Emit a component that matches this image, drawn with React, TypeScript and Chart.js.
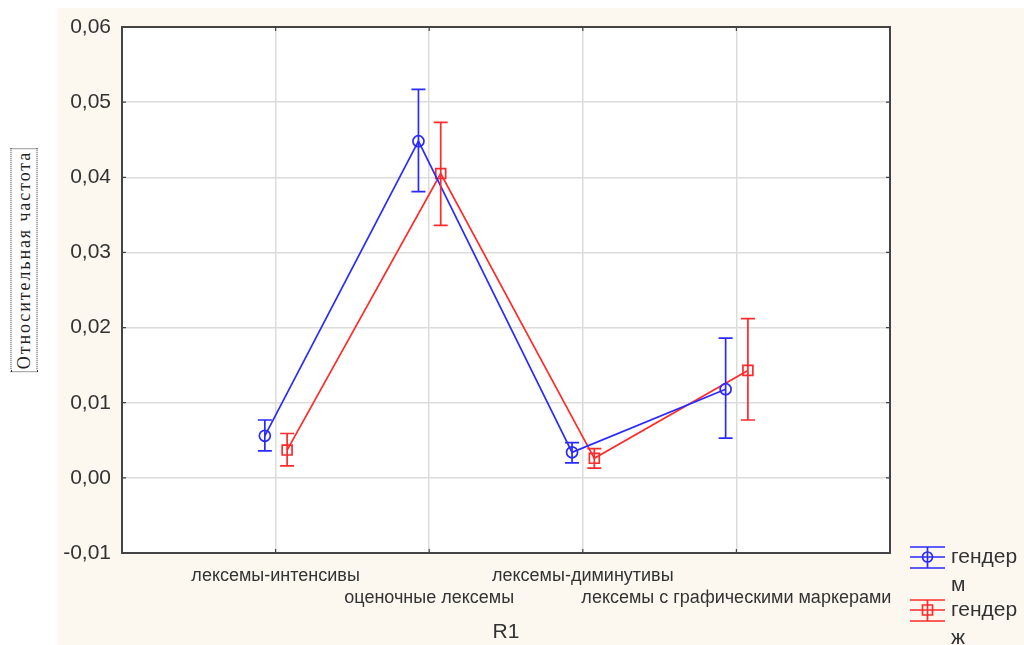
import React, { useEffect, useRef } from 'react';
import { Chart, registerables } from 'chart.js';

Chart.register(...registerables);

// категории по оси R1
const categories = [
    'лексемы-интенсивы',
    'оценочные лексемы',
    'лексемы-диминутивы',
    'лексемы с графическими маркерами',
];

// гендер м
const maleMean = [0.0056, 0.0448, 0.0034, 0.0118];
const maleLow = [0.0036, 0.0381, 0.0020, 0.0053];
const maleHigh = [0.0077, 0.0517, 0.0047, 0.0186];

// гендер ж
const femaleMean = [0.0037, 0.0405, 0.0026, 0.0143];
const femaleLow = [0.0016, 0.0336, 0.0013, 0.0077];
const femaleHigh = [0.0059, 0.0473, 0.0039, 0.0212];

const seriesNames = ['гендер\nм', 'гендер\nж'];
const yTicks = [-0.01, 0.0, 0.01, 0.02, 0.03, 0.04, 0.05, 0.06];

const BLUE = '#2a2aff';
const RED = '#ff2a2a';
const BG = '#fdf8ef';

const errors = [
    { low: maleLow, high: maleHigh },
    { low: femaleLow, high: femaleHigh },
];

const fmt = (v: number) => v.toFixed(2).replace('.', ',');

const backgroundPlugin = {
    id: 'bg',
    beforeDraw(chart: any) {
        const { ctx, chartArea } = chart;
        ctx.save();
        ctx.fillStyle = BG;
        ctx.fillRect(0, 0, chart.width, chart.height);
        ctx.fillStyle = '#ffffff';
        ctx.fillRect(chartArea.left, chartArea.top, chartArea.right - chartArea.left, chartArea.bottom - chartArea.top);
        ctx.restore();
    },
};

const errorBarPlugin = {
    id: 'errbars',
    afterDatasetsDraw(chart: any) {
        const { ctx } = chart;
        const y = chart.scales.y;
        chart.data.datasets.forEach((ds: any, i: number) => {
            const meta = chart.getDatasetMeta(i);
            ctx.save();
            ctx.strokeStyle = ds.borderColor;
            ctx.lineWidth = 1.7;
            meta.data.forEach((pt: any, j: number) => {
                const yl = y.getPixelForValue(errors[i].low[j]);
                const yh = y.getPixelForValue(errors[i].high[j]);
                const w = 7;
                ctx.beginPath();
                ctx.moveTo(pt.x, yl);
                ctx.lineTo(pt.x, yh);
                ctx.moveTo(pt.x - w, yl);
                ctx.lineTo(pt.x + w, yl);
                ctx.moveTo(pt.x - w, yh);
                ctx.lineTo(pt.x + w, yh);
                ctx.stroke();
            });
            ctx.restore();
        });
    },
};

const framePlugin = {
    id: 'frame',
    afterDraw(chart: any) {
        const { ctx, chartArea } = chart;
        const { left, top, right, bottom } = chartArea;
        ctx.save();
        ctx.strokeStyle = '#444444';
        ctx.lineWidth = 2;
        ctx.strokeRect(left, top, right - left, bottom - top);
        ctx.lineWidth = 1.2;
        ctx.beginPath();
        chart.scales.x.ticks.forEach((t: any) => {
            if (t.value <= 0 || t.value >= 5) return;
            const px = chart.scales.x.getPixelForValue(t.value);
            ctx.moveTo(px, top);
            ctx.lineTo(px, top + 4);
            ctx.moveTo(px, bottom);
            ctx.lineTo(px, bottom - 4);
        });
        chart.scales.y.ticks.forEach((t: any) => {
            const py = chart.scales.y.getPixelForValue(t.value);
            ctx.moveTo(left, py);
            ctx.lineTo(left + 4, py);
            ctx.moveTo(right, py);
            ctx.lineTo(right - 4, py);
        });
        ctx.stroke();

        // легенда справа внизу
        const items = [
            { color: BLUE, style: 'circle', y: 557 - 8 },
            { color: RED, style: 'rect', y: 610 - 8 },
        ];
        items.forEach((it, i) => {
            const x0 = 910 - 58;
            const x1 = 945 - 58;
            const cx = (x0 + x1) / 2;
            ctx.strokeStyle = it.color;
            ctx.lineWidth = 1.7;
            ctx.beginPath();
            ctx.moveTo(x0, it.y - 10);
            ctx.lineTo(x1, it.y - 10);
            ctx.moveTo(x0, it.y);
            ctx.lineTo(x1, it.y);
            ctx.moveTo(x0, it.y + 11);
            ctx.lineTo(x1, it.y + 11);
            ctx.moveTo(cx, it.y - 10);
            ctx.lineTo(cx, it.y + 11);
            ctx.stroke();
            ctx.beginPath();
            if (it.style === 'circle') {
                ctx.arc(cx, it.y, 5, 0, Math.PI * 2);
            } else {
                ctx.rect(cx - 5, it.y - 5, 10, 10);
            }
            ctx.stroke();
            ctx.fillStyle = '#333333';
            ctx.font = '21px "Liberation Sans", Arial, sans-serif';
            ctx.textBaseline = 'middle';
            ctx.textAlign = 'left';
            const lines = seriesNames[i].split('\n');
            lines.forEach((ln, k) => {
                ctx.fillText(ln, 951 - 58, it.y + k * 28);
            });
        });
        ctx.restore();
    },
};

const App: React.FC = () => {
    const chartRef = useRef<HTMLCanvasElement>(null);
    const chartInstance = useRef<Chart | null>(null);

    useEffect(() => {
        if (!chartRef.current) return;
        const ctx = chartRef.current.getContext('2d');
        if (!ctx) return;

        chartInstance.current = new Chart(ctx, {
            type: 'line',
            data: {
                datasets: [
                    {
                        label: 'гендер м',
                        data: maleMean.map((v, i) => ({ x: i + 1 - 0.07, y: v })),
                        borderColor: BLUE,
                        borderWidth: 1.7,
                        pointStyle: 'circle',
                        pointRadius: 5.5,
                        pointBorderWidth: 1.7,
                        pointBorderColor: BLUE,
                        pointBackgroundColor: 'rgba(0,0,0,0)',
                        tension: 0,
                    },
                    {
                        label: 'гендер ж',
                        data: femaleMean.map((v, i) => ({ x: i + 1 + 0.075, y: v })),
                        borderColor: RED,
                        borderWidth: 1.7,
                        pointStyle: 'rect',
                        pointRadius: 7,
                        pointBorderWidth: 1.7,
                        pointBorderColor: RED,
                        pointBackgroundColor: 'rgba(0,0,0,0)',
                        tension: 0,
                    },
                ],
            },
            options: {
                responsive: false,
                animation: false,
                layout: { padding: { left: 0, right: 134, top: 19, bottom: 0 } },
                plugins: {
                    legend: { display: false },
                    tooltip: { enabled: false },
                },
                scales: {
                    x: {
                        type: 'linear',
                        min: 0,
                        max: 5,
                        afterBuildTicks: (scale: any) => {
                            scale.ticks = [0, 1, 2, 3, 4, 5].map((v) => ({ value: v }));
                        },
                        afterFit: (scale: any) => {
                            scale.height = 92;
                            scale.paddingLeft = 0;
                            scale.paddingRight = 0;
                        },
                        border: { display: false },
                        grid: {
                            drawTicks: false,
                            lineWidth: 1.5,
                            color: (c: any) => (c.tick && (c.tick.value === 0 || c.tick.value === 5) ? 'rgba(0,0,0,0)' : '#dcdcdc'),
                        },
                        ticks: {
                            padding: 12,
                            maxRotation: 0,
                            autoSkip: false,
                            color: '#333333',
                            font: { family: '"Liberation Sans", Arial, sans-serif', size: 18, lineHeight: 1.22 },
                            callback: (v: any) => {
                                const i = Math.round(Number(v)) - 1;
                                if (i < 0 || i >= categories.length) return '';
                                return i % 2 === 0 ? [categories[i], ''] : ['', categories[i]];
                            },
                        },
                        title: {
                            display: true,
                            text: 'R1',
                            color: '#333333',
                            padding: { top: 4, bottom: 0 },
                            font: { family: '"Liberation Sans", Arial, sans-serif', size: 21 },
                        },
                    },
                    y: {
                        min: -0.01,
                        max: 0.06,
                        afterBuildTicks: (scale: any) => {
                            scale.ticks = yTicks.map((v) => ({ value: v }));
                        },
                        afterFit: (scale: any) => {
                            scale.width = 64;
                            scale.paddingTop = 0;
                            scale.paddingBottom = 0;
                        },
                        border: { display: false },
                        grid: { drawTicks: false, lineWidth: 1.5, color: '#dcdcdc' },
                        ticks: {
                            padding: 11,
                            color: '#333333',
                            font: { family: '"Liberation Sans", Arial, sans-serif', size: 21 },
                            callback: (v: any) => fmt(Number(v)),
                        },
                    },
                },
            },
            plugins: [backgroundPlugin, errorBarPlugin, framePlugin],
        });

        return () => {
            if (chartInstance.current) {
                chartInstance.current.destroy();
                chartInstance.current = null;
            }
        };
    }, []);

    return (
        <div style={{ position: 'fixed', left: 0, top: 0, width: 1024, height: 645, background: '#ffffff', overflow: 'hidden' }}>
            <div
                style={{
                    position: 'absolute',
                    left: 24,
                    top: 260,
                    transform: 'translate(-50%, -50%) rotate(-90deg)',
                    whiteSpace: 'nowrap',
                    border: '1px dotted #333',
                    padding: '0px 2px',
                    fontFamily: '"Liberation Serif", "Times New Roman", serif',
                    fontSize: 18,
                    letterSpacing: 1.9,
                    color: '#222',
                    lineHeight: '25px',
                }}
            >
                Относительная частота
            </div>
            <canvas
                ref={chartRef}
                width={966}
                height={637}
                style={{ position: 'absolute', left: 58, top: 8, width: 966, height: 637 }}
            />
        </div>
    );
};

export default App;
